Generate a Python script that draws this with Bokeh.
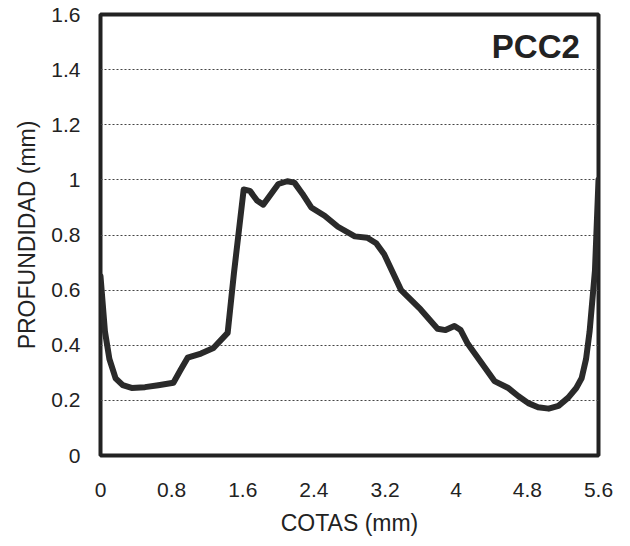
from bokeh.plotting import figure
from bokeh.models import FixedTicker, Range1d
from bokeh.core.properties import value
from bokeh.embed import file_html
from bokeh.resources import INLINE

# Data
cotas = [0.0, 0.05, 0.10, 0.17, 0.25, 0.35, 0.50, 0.65, 0.82, 0.90, 0.98, 1.13,
         1.27, 1.43, 1.50, 1.61, 1.68, 1.76, 1.83, 1.92, 2.0, 2.1, 2.18, 2.27,
         2.37, 2.52, 2.67, 2.86, 3.0, 3.10, 3.19, 3.38, 3.6, 3.79, 3.88, 3.98,
         4.05, 4.13, 4.43, 4.58, 4.70, 4.81, 4.92, 5.04, 5.15, 5.26, 5.35, 5.41,
         5.46, 5.50, 5.56, 5.6]
profundidad = [0.65, 0.45, 0.35, 0.28, 0.255, 0.245, 0.248, 0.255, 0.264, 0.31, 0.355, 0.37,
               0.39, 0.445, 0.66, 0.965, 0.96, 0.925, 0.91, 0.95, 0.985, 0.995, 0.99, 0.95,
               0.90, 0.87, 0.83, 0.795, 0.79, 0.77, 0.73, 0.60, 0.53, 0.46, 0.455, 0.47,
               0.455, 0.405, 0.27, 0.246, 0.215, 0.19, 0.175, 0.17, 0.18, 0.21, 0.245, 0.28,
               0.35, 0.45, 0.67, 1.0]
x_ticks = [0, 0.8, 1.6, 2.4, 3.2, 4.0, 4.8, 5.6]
x_labels = ["0", "0.8", "1.6", "2.4", "3.2", "4", "4.8", "5.6"]
y_ticks = [0, 0.2, 0.4, 0.6, 0.8, 1.0, 1.2, 1.4, 1.6]
y_labels = ["0", "0.2", "0.4", "0.6", "0.8", "1", "1.2", "1.4", "1.6"]
grid_ticks = [0.2, 0.4, 0.6, 0.8, 1.0, 1.2, 1.4]
title_text = "PCC2"

FONT = "Liberation Sans"

p = figure(width=622, height=538, output_backend="svg", toolbar_location=None,
           x_range=Range1d(0, 5.6), y_range=Range1d(0, 1.6))
p.min_border_left = 100
p.min_border_right = 24
p.min_border_top = 14
p.min_border_bottom = 82
p.background_fill_color = "white"
p.border_fill_color = "white"

p.outline_line_color = "#222222"
p.outline_line_width = 4

p.xgrid.grid_line_color = None
p.ygrid.ticker = FixedTicker(ticks=grid_ticks)
p.ygrid.grid_line_color = "#444444"
p.ygrid.grid_line_width = 1
p.ygrid.grid_line_dash = "2 2"

p.xaxis.ticker = FixedTicker(ticks=x_ticks)
p.xaxis.major_label_overrides = {t: l for t, l in zip(x_ticks, x_labels)}
p.yaxis.ticker = FixedTicker(ticks=y_ticks)
p.yaxis.major_label_overrides = {t: l for t, l in zip(y_ticks, y_labels)}

for ax in (p.xaxis[0], p.yaxis[0]):
    ax.axis_line_color = None
    ax.major_tick_line_color = None
    ax.minor_tick_line_color = None
    ax.major_label_text_font = FONT
    ax.major_label_text_font_size = "21px"
    ax.major_label_text_color = "#222222"
    ax.axis_label_text_font = FONT
    ax.axis_label_text_font_size = "23px"
    ax.axis_label_text_font_style = "normal"
    ax.axis_label_text_color = "#222222"

p.xaxis.major_label_standoff = 21
p.yaxis.major_label_standoff = 14
p.xaxis.axis_label = "COTAS (mm)"
p.yaxis.axis_label = "PROFUNDIDAD (mm)"
p.xaxis.axis_label_standoff = 10
p.yaxis.axis_label_standoff = 8

p.line(cotas, profundidad, line_color="#2a2a2a", line_width=6, line_join="round",
       line_cap="round")

p.text(x=[5.39], y=[1.485], text=[title_text], text_font=value(FONT),
       text_font_size="33px", text_font_style="bold", text_align="right",
       text_baseline="middle", text_color="#222222")

open("out.html", "w").write(file_html(p, INLINE))
